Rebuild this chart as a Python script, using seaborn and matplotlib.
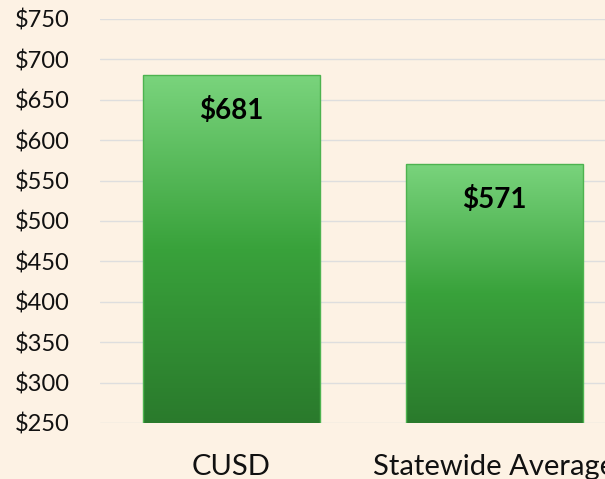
import numpy as np
import pandas as pd
import matplotlib
matplotlib.use("Agg")
import matplotlib.pyplot as plt
from matplotlib.colors import LinearSegmentedColormap
import seaborn as sns

categories = ["CUSD", "Statewide Average"]
values = [681, 571]
value_labels = ["$681", "$571"]
y_ticks = [250, 300, 350, 400, 450, 500, 550, 600, 650, 700, 750]
y_tick_labels = ["$" + str(v) for v in y_ticks]

bg = "#FDF2E4"
sns.set_theme(style="white")
plt.rcParams["font.family"] = ["Lato", "DejaVu Sans"]

df = pd.DataFrame({"cat": categories, "val": values})

fig = plt.figure(figsize=(6.05, 4.79), dpi=100, facecolor=bg)
ax = fig.add_axes([100 / 605, 56 / 479, 526 / 605, 404 / 479])
ax.set_facecolor(bg)

sns.barplot(data=df, x="cat", y="val", ax=ax, width=0.67,
            color="#3DA63F", edgecolor="#4DB34F", linewidth=1.0, zorder=2)
ax.set_ylim(250, 750)
ax.set_xlim(-0.5, 1.5)
ax.set_yticks(y_ticks)
ax.set_yticklabels(y_tick_labels, fontsize=17, color="#111111")
ax.tick_params(axis="y", length=0, pad=22)
ax.tick_params(axis="x", length=0, pad=22, labelsize=21, labelcolor="#111111")
ax.set_xlabel("")
ax.set_ylabel("")
ax.grid(axis="y", color="#DEDEDE", linewidth=1.0, zorder=0)
ax.grid(axis="x", visible=False)
for s in ax.spines.values():
    s.set_visible(False)

cmap = LinearSegmentedColormap.from_list(
    "g", [(0.0, "#2A7A2C"), (0.5, "#39A23B"), (1.0, "#7AD47D")])
grad = np.linspace(0, 1, 256).reshape(-1, 1)
for patch, lab in zip(ax.patches, value_labels):
    x0 = patch.get_x()
    w = patch.get_width()
    y0 = patch.get_y()
    h = patch.get_height()
    top = y0 + h
    im = ax.imshow(grad, cmap=cmap, aspect="auto", origin="lower",
                   extent=[x0, x0 + w, 250, top], zorder=2.5)
    im.set_clip_path(patch)
    patch.set_facecolor("none")
    patch.set_zorder(3)
    ax.annotate(lab, (x0 + w / 2, top), xytext=(0, -25.5), textcoords="offset points",
                ha="center", va="center", fontsize=20, fontweight="bold",
                color="black", zorder=4)
ax.set_xlim(-0.5, 1.5)
ax.set_ylim(250, 750)

fig.savefig("out.png", dpi=100, facecolor=bg)
